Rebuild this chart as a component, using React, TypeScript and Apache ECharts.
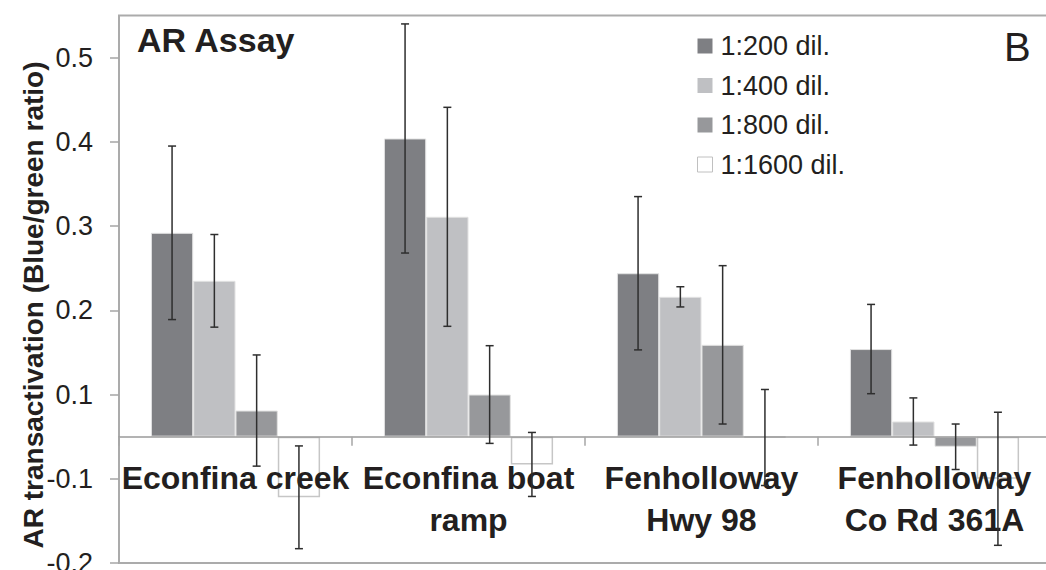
import React, { useEffect, useRef } from "react";
import * as echarts from "echarts";

// Categories (sampling sites)
const categories = [
  "Econfina creek",
  "Econfina boat\nramp",
  "Fenholloway\nHwy 98",
  "Fenholloway\nCo Rd 361A",
];

const seriesNames = ["1:200 dil.", "1:400 dil.", "1:800 dil.", "1:1600 dil."];

const dil200 = [0.242, 0.354, 0.194, 0.104];
const dil400 = [0.185, 0.261, 0.166, 0.018];
const dil800 = [0.031, 0.05, 0.109, -0.012];
const dil1600 = [-0.072, -0.033, -0.001, -0.05];

// Error bar half-lengths
const err200 = [0.103, 0.136, 0.091, 0.053];
const err400 = [0.055, 0.13, 0.012, 0.028];
const err800 = [0.066, 0.058, 0.094, 0.027];
const err1600 = [0.061, 0.038, 0.057, 0.079];

// Tick positions on the value axis and the labels printed at them
const yTickValues = [-0.15, -0.05, 0.05, 0.15, 0.25, 0.35, 0.45];
const yTickLabels = ["-0.2", "-0.1", "0.1", "0.2", "0.3", "0.4", "0.5"];

const FONT = '"Liberation Sans", Arial, Helvetica, sans-serif';
const TEXT = "#231f20";
const GAP = 0.274;

const Y_MIN = -0.15;
const Y_MAX = 0.5;
const GRID_TOP = 15.5;
const GRID_BOTTOM = 7;
const CHART_H = 570;

export default function App() {
  const ref = useRef<HTMLDivElement | null>(null);

  useEffect(() => {
    if (!ref.current) return;
    const chart = echarts.init(ref.current, undefined, { renderer: "svg" });

    const values = [dil200, dil400, dil800, dil1600];
    const errors = [err200, err400, err800, err1600];
    const fills = ["#7e7f83", "#bfc0c3", "#97989b", "#ffffff"];
    const borders = ["#e2e2e2", "#e2e2e2", "#e2e2e2", "#c6c6c6"];

    // distance from the grid's bottom edge up to the zero line
    const gridH = CHART_H - GRID_TOP - GRID_BOTTOM;
    const zeroOffset = (gridH * (0 - Y_MIN)) / (Y_MAX - Y_MIN);

    const barSeries = values.map((vals, i) => ({
      type: "bar",
      name: seriesNames[i],
      data: vals,
      barGap: "0%",
      barCategoryGap: GAP * 100 + "%",
      z: 2,
      itemStyle: {
        color: fills[i],
        borderColor: borders[i],
        borderWidth: i === 3 ? 1.5 : 1,
      },
    }));

    const errData: number[][] = [];
    values.forEach((vals, s) => {
      vals.forEach((v, c) => {
        errData.push([c, s, v, errors[s][c]]);
      });
    });

    const errSeries = {
      type: "custom",
      name: "err",
      z: 5,
      dimensions: ["cat", "series", "value", "err"],
      encode: { x: 0, y: 2 },
      data: errData,
      renderItem: (params: any, api: any) => {
        const c = api.value(0);
        const s = api.value(1);
        const v = api.value(2);
        const e = api.value(3);
        const center = api.coord([c, v]);
        const catW = api.size([1, 0])[0];
        const bw = (catW * (1 - GAP)) / 4;
        const x = center[0] + (s - 1.5) * bw;
        const top = api.coord([c, v + e])[1];
        const bot = api.coord([c, v - e])[1];
        const cap = 4;
        const st = { stroke: "#2e2e2e", lineWidth: 1.5 };
        return {
          type: "group",
          children: [
            { type: "line", shape: { x1: x, y1: top, x2: x, y2: bot }, style: st },
            { type: "line", shape: { x1: x - cap, y1: top, x2: x + cap, y2: top }, style: st },
            { type: "line", shape: { x1: x - cap, y1: bot, x2: x + cap, y2: bot }, style: st },
          ],
        };
      },
    };

    chart.setOption({
      animation: false,
      backgroundColor: "#ffffff",
      textStyle: { fontFamily: FONT },
      grid: {
        left: 119,
        right: -5,
        top: GRID_TOP,
        bottom: GRID_BOTTOM,
        show: true,
        borderColor: "#ababab",
        borderWidth: 2,
        containLabel: false,
        outerBoundsMode: "none",
      },
      legend: {
        orient: "vertical",
        left: 697,
        top: 31,
        padding: 0,
        itemWidth: 15,
        itemHeight: 15,
        itemGap: 9.5,
        icon: "rect",
        textStyle: {
          fontFamily: FONT,
          fontSize: 27,
          lineHeight: 30,
          color: TEXT,
          padding: [0, 0, 0, 3],
        },
        data: seriesNames.map((n, i) => ({
          name: n,
          itemStyle:
            i === 3
              ? { color: "#ffffff", borderColor: "#c0c0c0", borderWidth: 1 }
              : { color: fills[i], borderWidth: 0 },
        })),
      },
      xAxis: {
        type: "category",
        data: categories,
        position: "bottom",
        offset: -zeroOffset,
        z: 3,
        axisLine: { show: true, onZero: false, lineStyle: { color: "#9a9a9a", width: 1.5 } },
        axisTick: { show: true, length: 9, lineStyle: { color: "#a6a6a6", width: 1.5 } },
        axisLabel: {
          interval: 0,
          margin: 20,
          fontFamily: FONT,
          fontSize: 32,
          fontWeight: "bold",
          lineHeight: 42,
          color: TEXT,
        },
        splitLine: { show: false },
      },
      yAxis: {
        type: "value",
        min: Y_MIN,
        max: Y_MAX,
        axisLine: { show: false },
        axisTick: {
          show: true,
          length: 9,
          lineStyle: { color: "#a6a6a6", width: 1.5 },
          customValues: yTickValues,
        },
        axisLabel: {
          margin: 26,
          fontFamily: FONT,
          fontSize: 27,
          color: TEXT,
          customValues: yTickValues,
          formatter: (v: number) => {
            let best = -1;
            let d = 1e9;
            yTickValues.forEach((t, i) => {
              if (Math.abs(t - v) < d) {
                d = Math.abs(t - v);
                best = i;
              }
            });
            return d < 0.001 ? yTickLabels[best] : "";
          },
        },
        splitLine: { show: false },
      },
      graphic: [
        {
          type: "text",
          x: 137,
          y: 40,
          z: 10,
          style: {
            text: "AR Assay",
            fill: TEXT,
            font: `bold 34px ${FONT}`,
            textAlign: "left",
            textVerticalAlign: "middle",
          },
        },
        {
          type: "text",
          x: 1004,
          y: 47,
          z: 10,
          style: {
            text: "B",
            fill: TEXT,
            font: `40px ${FONT}`,
            textAlign: "left",
            textVerticalAlign: "middle",
          },
        },
        {
          type: "text",
          x: 33,
          y: 305,
          rotation: Math.PI / 2,
          z: 10,
          style: {
            text: "AR transactivation (Blue/green ratio)",
            fill: TEXT,
            font: `bold 28px ${FONT}`,
            textAlign: "center",
            textVerticalAlign: "middle",
          },
        },
      ],
      series: [...barSeries, errSeries],
    });

    return () => chart.dispose();
  }, []);

  return (
    <div
      ref={ref}
      style={{ position: "fixed", left: 0, top: 0, width: 1046, height: CHART_H, background: "#fff" }}
    />
  );
}
